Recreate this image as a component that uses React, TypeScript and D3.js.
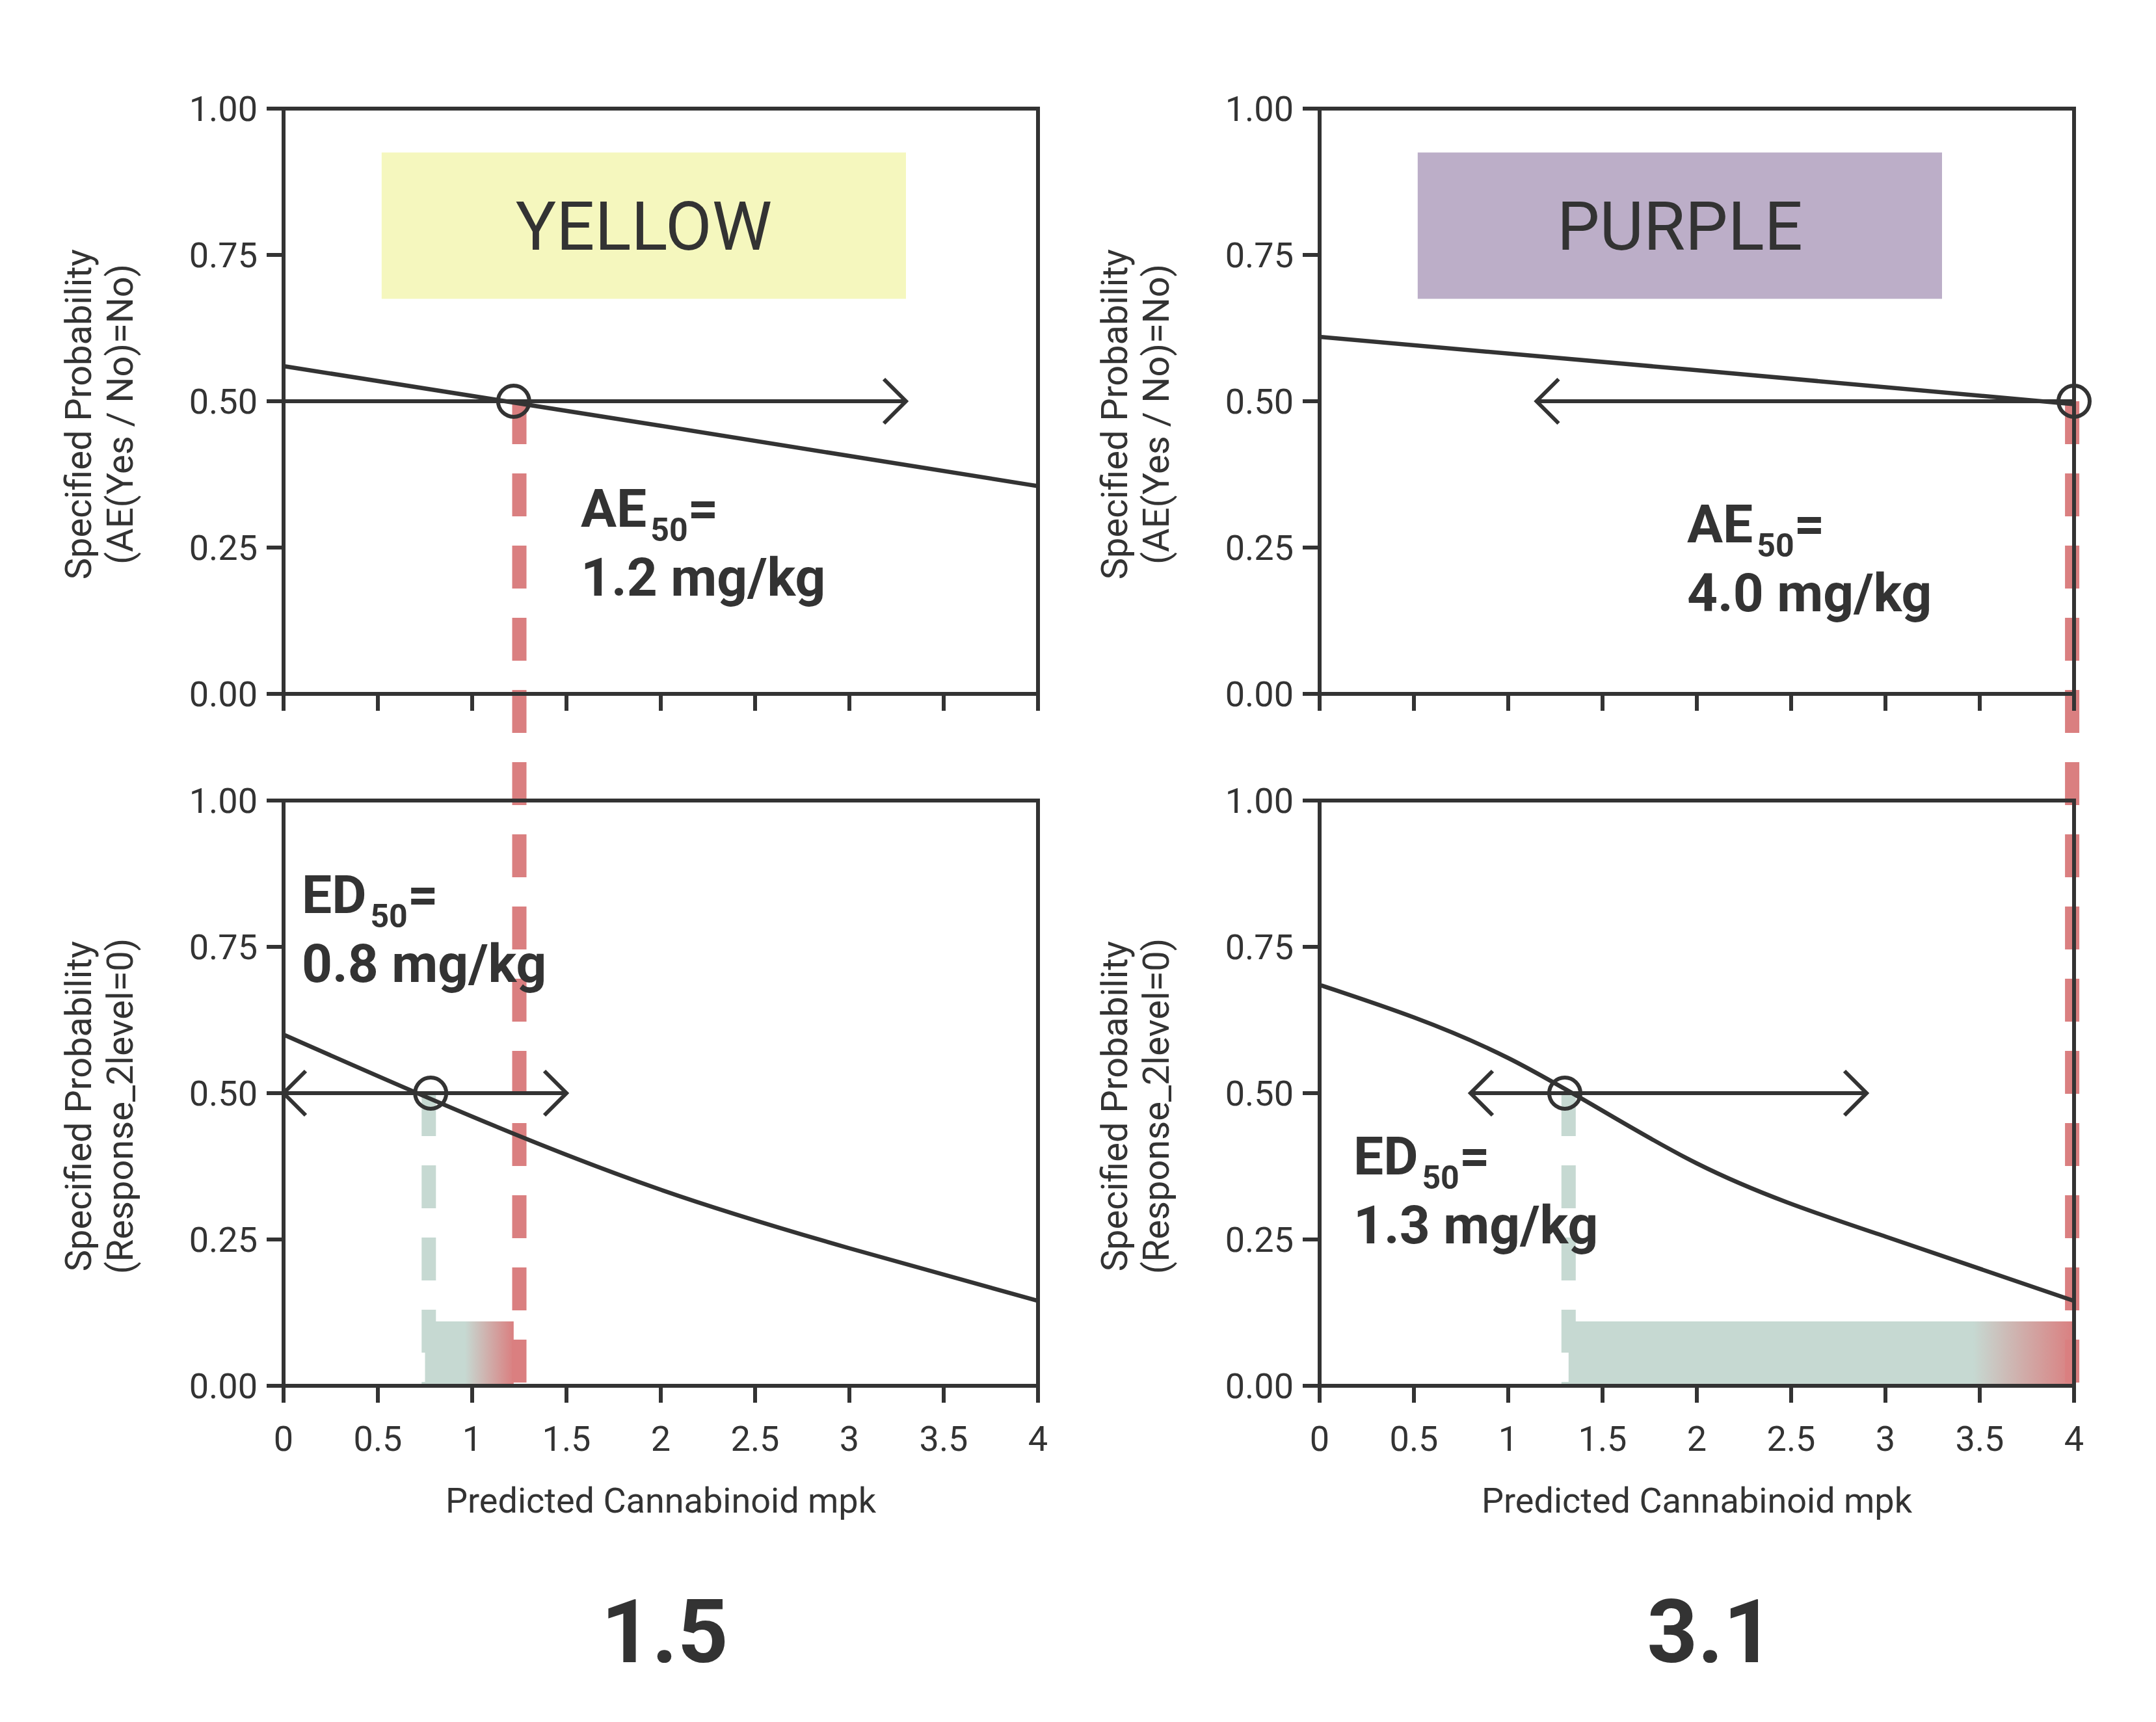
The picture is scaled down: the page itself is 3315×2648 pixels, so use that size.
import * as d3 from 'd3';

const W = 3315;
const H = 2648;
const ink = '#333333';
const red = '#da7f80';
const green = '#c6d9d2';

const xTicks = [0, 0.5, 1, 1.5, 2, 2.5, 3, 3.5, 4];
const yTicks = [0, 0.25, 0.5, 0.75, 1];

// curves
const yellowAeX = [0, 2, 4];
const yellowAeY = [0.56, 0.458, 0.355];
const yellowEdX = [0, 1, 2, 3, 4];
const yellowEdY = [0.6, 0.46, 0.335, 0.235, 0.145];
const purpleAeX = [0, 2, 4];
const purpleAeY = [0.61, 0.553, 0.495];
const purpleEdX = [0, 1, 2, 3, 4];
const purpleEdY = [0.685, 0.56, 0.38, 0.255, 0.145];

const xs = [436, 2029];
const panelW = 1160;
const topY = [167, 1067];
const botY = [1231, 2131];

const x = (i: number) => d3.scaleLinear().domain([0, 4]).range([xs[i], xs[i] + panelW]);
const yTop = d3.scaleLinear().domain([0, 1]).range([topY[1], topY[0]]);
const yBot = d3.scaleLinear().domain([0, 1]).range([botY[1], botY[0]]);

const font = 'Roboto, "Liberation Sans", sans-serif';

const Frame = ({ xi, ys, labels, ylab }: any) => {
  const sx = x(xi);
  return (
    <g>
      <rect x={sx(0)} y={ys(1)} width={panelW} height={ys(0) - ys(1)} fill="none" stroke={ink} strokeWidth={6} />
      {yTicks.map(t => (
        <g key={t}>
          <line x1={sx(0) - 26} x2={sx(0)} y1={ys(t)} y2={ys(t)} stroke={ink} strokeWidth={6} />
          <text x={sx(0) - 40} y={ys(t)} dy="0.36em" textAnchor="end" fontSize={54} fill={ink} fontFamily={font}>
            {t.toFixed(2)}
          </text>
        </g>
      ))}
      {xTicks.map(t => (
        <g key={t}>
          <line x1={sx(t)} x2={sx(t)} y1={ys(0)} y2={ys(0) + 26} stroke={ink} strokeWidth={6} />
          {labels && (
            <text x={sx(t)} y={ys(0) + 100} textAnchor="middle" fontSize={54} fill={ink} fontFamily={font}>
              {t}
            </text>
          )}
        </g>
      ))}
      {labels && (
        <text x={sx(2)} y={2326} textAnchor="middle" fontSize={54} fill={ink} fontFamily={font}>
          Predicted Cannabinoid mpk
        </text>
      )}
      <text transform={`translate(${sx(0) - 296},${(ys(0) + ys(1)) / 2 + 20}) rotate(-90)`} textAnchor="middle" fontSize={56} fill={ink} fontFamily={font}>
        <tspan x={0} dy={0}>Specified Probability</tspan>
        <tspan x={0} dy={64}>{ylab}</tspan>
      </text>
    </g>
  );
};

const Curve = ({ xi, ys, xv, yv }: any) => {
  const sx = x(xi);
  const pts = xv.map((v: number, i: number) => [sx(v), ys(yv[i])] as [number, number]);
  return <path d={d3.line().curve(d3.curveNatural)(pts) || ''} fill="none" stroke={ink} strokeWidth={6.5} />;
};

const Arrow = ({ xi, ys, from, to, both }: any) => {
  const sx = x(xi);
  const y0 = ys(0.5);
  const head = (px: number, dir: number) => (
    <path d={`M${px - dir * 34},${y0 - 34} L${px},${y0} L${px - dir * 34},${y0 + 34}`} fill="none" stroke={ink} strokeWidth={6} />
  );
  const dir = to > from ? 1 : -1;
  return (
    <g>
      <line x1={sx(from)} x2={sx(to)} y1={y0} y2={y0} stroke={ink} strokeWidth={6} />
      {head(sx(to), dir)}
      {both && head(sx(from), -dir)}
    </g>
  );
};

const Ring = ({ xi, ys, v }: any) => (
  <circle cx={x(xi)(v)} cy={ys(0.5)} r={24} fill="none" stroke={ink} strokeWidth={6} />
);

const Label = ({ px, py, name, value }: any) => (
  <text x={px} y={py} fontSize={82} fontWeight="bold" fill={ink} fontFamily={font}>
    <tspan>{name}</tspan>
    <tspan fontSize={50} dy={22} dx={6}>50</tspan>
    <tspan dy={-22}>=</tspan>
    <tspan x={px} dy={106}>{value}</tspan>
  </text>
);

const Band = ({ xi, id, from, to, redStop }: any) => {
  const sx = x(xi);
  return (
    <g>
      <defs>
        <linearGradient id={id} x1="0" x2="1" y1="0" y2="0">
          <stop offset="0" stopColor={green} />
          <stop offset={redStop} stopColor={green} />
          <stop offset="1" stopColor={red} />
        </linearGradient>
      </defs>
      <rect x={sx(from)} y={yBot(0.11)} width={sx(to) - sx(from)} height={yBot(0) - yBot(0.11)} fill={`url(#${id})`} />
    </g>
  );
};

const Dash = ({ xi, v, y1, y2, color }: any) => (
  <line x1={x(xi)(v)} x2={x(xi)(v)} y1={y1} y2={y2} stroke={color} strokeWidth={22} strokeDasharray="66 45" />
);

const Box = ({ xi, color, text }: any) => {
  const sx = x(xi);
  return (
    <g>
      <rect x={sx(0.52)} y={yTop(0.925)} width={sx(3.3) - sx(0.52)} height={yTop(0.675) - yTop(0.925)} fill={color} />
      <text x={(sx(0.52) + sx(3.3)) / 2} y={(yTop(0.925) + yTop(0.675)) / 2} dy="0.36em" textAnchor="middle" fontSize={104} fill={ink} fontFamily={font}>
        {text}
      </text>
    </g>
  );
};

const App = () => (
  <svg width={W} height={H} style={{ position: 'absolute', left: 0, top: 0, background: '#fff' }}>
    <rect width={W} height={H} fill="#fff" />
    <Box xi={0} color="#f5f7be" text="YELLOW" />
    <Box xi={1} color="#bcaec8" text="PURPLE" />
    <Band xi={0} id="g0" from={0.75} to={1.22} redStop={0.45} />
    <Band xi={1} id="g1" from={1.32} to={4} redStop={0.8} />
    <Dash xi={0} v={0.77} y1={yBot(0.5)} y2={yBot(0)} color={green} />
    <Dash xi={1} v={1.32} y1={yBot(0.5)} y2={yBot(0)} color={green} />
    <Dash xi={0} v={1.25} y1={yTop(0.5)} y2={yBot(0)} color={red} />
    <Dash xi={1} v={3.99} y1={yTop(0.5)} y2={yBot(0)} color={red} />
    <Frame xi={0} ys={yTop} labels={false} ylab="(AE(Yes / No)=No)" />
    <Frame xi={1} ys={yTop} labels={false} ylab="(AE(Yes / No)=No)" />
    <Frame xi={0} ys={yBot} labels={true} ylab="(Response_2level=0)" />
    <Frame xi={1} ys={yBot} labels={true} ylab="(Response_2level=0)" />
    <Curve xi={0} ys={yTop} xv={yellowAeX} yv={yellowAeY} />
    <Curve xi={0} ys={yBot} xv={yellowEdX} yv={yellowEdY} />
    <Curve xi={1} ys={yTop} xv={purpleAeX} yv={purpleAeY} />
    <Curve xi={1} ys={yBot} xv={purpleEdX} yv={purpleEdY} />
    <Arrow xi={0} ys={yTop} from={0} to={3.3} />
    <Arrow xi={0} ys={yBot} from={0} to={1.5} both />
    <Arrow xi={1} ys={yTop} from={4} to={1.15} />
    <Arrow xi={1} ys={yBot} from={0.8} to={2.9} both />
    <Ring xi={0} ys={yTop} v={1.22} />
    <Ring xi={0} ys={yBot} v={0.78} />
    <Ring xi={1} ys={yTop} v={4} />
    <Ring xi={1} ys={yBot} v={1.3} />
    <Label px={893} py={810} name="AE" value="1.2 mg/kg" />
    <Label px={2594} py={834} name="AE" value="4.0 mg/kg" />
    <Label px={464} py={1404} name="ED" value="0.8 mg/kg" />
    <Label px={2081} py={1806} name="ED" value="1.3 mg/kg" />
    <text x={1022} y={2556} textAnchor="middle" fontSize={136} fontWeight="bold" fill={ink} fontFamily={font}>1.5</text>
    <text x={2630} y={2556} textAnchor="middle" fontSize={136} fontWeight="bold" fill={ink} fontFamily={font}>3.1</text>
  </svg>
);

export default App;
